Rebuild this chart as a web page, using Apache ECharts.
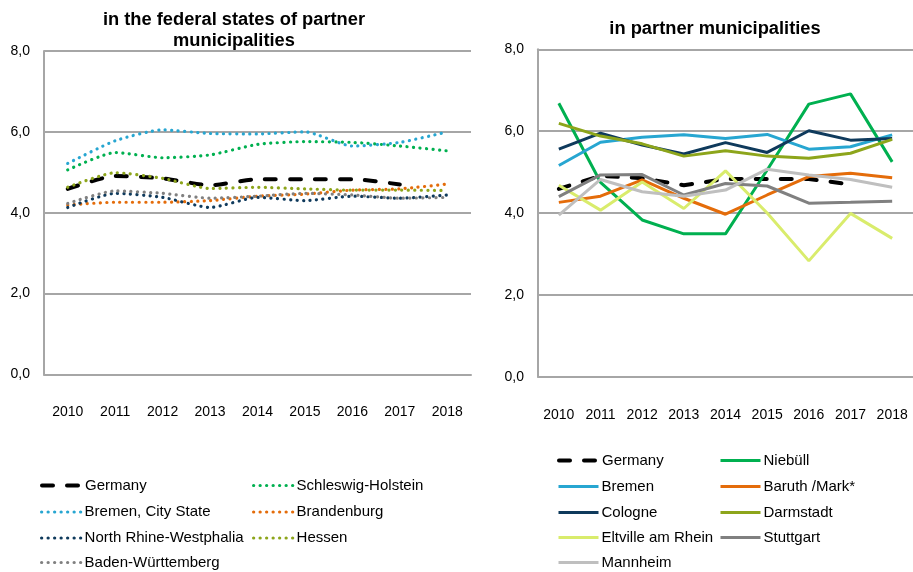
<!DOCTYPE html>
<html>
<head>
<meta charset="utf-8">
<script src="https://cdn.jsdelivr.net/npm/echarts@6/dist/echarts.min.js"></script>
<style>html,body{margin:0;padding:0;background:#fff}#c{width:913px;height:572px}</style>
</head>
<body>
<div id="c"></div>
<script>
var years = ['2010','2011','2012','2013','2014','2015','2016','2017','2018'];
var yTicks = [0, 2, 4, 6, 8];

// left chart: federal states
var germany     = [4.59, 4.91, 4.85, 4.68, 4.83, 4.83, 4.83, 4.70, null];
var schleswig   = [5.06, 5.49, 5.36, 5.43, 5.69, 5.76, 5.74, 5.65, 5.53];
var bremenState = [5.22, 5.78, 6.05, 5.96, 5.95, 6.00, 5.65, 5.74, 6.00];
var brandenburg = [4.19, 4.26, 4.26, 4.30, 4.41, 4.46, 4.56, 4.59, 4.71];
var nrw         = [4.13, 4.48, 4.38, 4.13, 4.38, 4.30, 4.41, 4.36, 4.44];
var hessen      = [4.63, 4.99, 4.85, 4.60, 4.63, 4.59, 4.56, 4.56, 4.55];
var bw          = [4.23, 4.54, 4.48, 4.36, 4.41, 4.48, 4.44, 4.36, 4.38];

// right chart: partner municipalities
var niebuell  = [6.68, 4.75, 3.83, 3.49, 3.49, 5.05, 6.66, 6.91, 5.25];
var bremen    = [5.16, 5.73, 5.85, 5.91, 5.82, 5.92, 5.56, 5.62, 5.91];
var baruth    = [4.26, 4.41, 4.81, 4.36, 3.97, 4.44, 4.89, 4.97, 4.86];
var cologne   = [5.56, 5.95, 5.66, 5.44, 5.72, 5.48, 6.01, 5.78, 5.82];
var darmstadt = [6.19, 5.88, 5.69, 5.39, 5.52, 5.39, 5.34, 5.46, 5.80];
var eltville  = [4.68, 4.07, 4.76, 4.11, 5.03, 4.00, 2.83, 3.99, 3.38];
var stuttgart = [4.40, 4.93, 4.94, 4.44, 4.72, 4.66, 4.24, 4.26, 4.29];
var mannheim  = [3.95, 4.82, 4.52, 4.41, 4.56, 5.07, 4.93, 4.82, 4.63];

var FONT = '"Liberation Sans", Arial, sans-serif';
var C = {
  black: '#000000', green: '#00B050', blue: '#27A6D1', orange: '#E46C0A',
  navy: '#0F3A5C', olive: '#8DA51B', yellow: '#D9EC6C', gray: '#808080', lgray: '#BFBFBF'
};
var GRID_COLOR = '#A6A6A6';

function yAxis(idx) {
  return {
    type: 'value', gridIndex: idx, min: yTicks[0], max: yTicks[yTicks.length - 1], interval: 2,
    axisLine: { show: true, lineStyle: { color: GRID_COLOR, width: 2 } },
    axisTick: { show: false },
    splitLine: { show: true, lineStyle: { color: GRID_COLOR, width: 2 } },
    axisLabel: { margin: 14, fontSize: 14, color: '#000', fontFamily: FONT,
      formatter: function (v) { return v.toFixed(1).replace('.', ','); } }
  };
}
function xAxis(idx) {
  return {
    type: 'category', gridIndex: idx, data: years, boundaryGap: true,
    axisLine: { show: true, lineStyle: { color: GRID_COLOR, width: 2 } },
    axisTick: { show: false },
    axisLabel: { margin: 31, fontSize: 14, color: '#000', fontFamily: FONT, interval: 0 }
  };
}
function dotted(name, data, color) {
  return { name: name, type: 'line', xAxisIndex: 0, yAxisIndex: 0, data: data,
    symbol: 'none', smooth: 0.2, color: color,
    lineStyle: { color: color, width: 3.2, type: [0.1, 6.4], cap: 'round' } };
}
function solid(name, data, color) {
  return { name: name, type: 'line', xAxisIndex: 1, yAxisIndex: 1, data: data,
    symbol: 'none', color: color,
    lineStyle: { color: color, width: 3 } };
}
function dashedGermany(axis, smooth) {
  return { name: 'Germany', type: 'line', xAxisIndex: axis, yAxisIndex: axis, data: germany,
    symbol: 'none', smooth: smooth, color: C.black,
    lineStyle: { color: C.black, width: 4, type: [11, 14], cap: 'round' } };
}
function leg(name, x, yc, w) {
  return { data: [name], left: x, top: yc - 7, itemWidth: 40, itemHeight: 16, padding: 0,
    selectedMode: false, itemGap: 0,
    itemStyle: { opacity: 0, borderWidth: 0 },
    lineStyle: { width: w },
    textStyle: { fontSize: 15, color: '#000', fontFamily: FONT, padding: [0, 0, 0, -2] } };
}

var TFONT = 'bold 18.3px ' + FONT;
var option = {
  animation: false,
  backgroundColor: '#fff',
  graphic: [
    { type: 'text', x: 234, y: 20, style: { text: 'in the federal states of partner', font: TFONT, fill: '#000', textAlign: 'center', textVerticalAlign: 'middle' } },
    { type: 'text', x: 234, y: 41, style: { text: 'municipalities', font: TFONT, fill: '#000', textAlign: 'center', textVerticalAlign: 'middle' } },
    { type: 'text', x: 715, y: 29, style: { text: 'in partner municipalities', font: TFONT, fill: '#000', textAlign: 'center', textVerticalAlign: 'middle' } }
  ],
  grid: [
    { left: 44, right: 442, top: 51, bottom: 197.5 },
    { left: 538, right: -5.5, top: 49.3, bottom: 195.3 }
  ],
  xAxis: [xAxis(0), xAxis(1)],
  yAxis: [yAxis(0), yAxis(1)],
  legend: [
    leg('Germany', 40, 485, 4),
    leg('Schleswig-Holstein', 252, 485, 3.2),
    leg('Bremen, City State', 40, 511.5, 3.2),
    leg('Brandenburg', 252, 511.5, 3.2),
    leg('North Rhine-Westphalia', 40, 537.5, 3.2),
    leg('Hessen', 252, 537.5, 3.2),
    leg('Baden-Württemberg', 40, 562, 3.2),

    leg('Germany', 557, 460, 4),
    leg('Niebüll', 719, 460, 3),
    leg('Bremen', 557, 486, 3),
    leg('Baruth /Mark*', 719, 486, 3),
    leg('Cologne', 557, 512, 3),
    leg('Darmstadt', 719, 512, 3),
    leg('Eltville am Rhein', 557, 537, 3),
    leg('Stuttgart', 719, 537, 3),
    leg('Mannheim', 557, 562, 3)
  ],
  series: [
    dashedGermany(0, 0.2),
    dotted('Schleswig-Holstein', schleswig, C.green),
    dotted('Bremen, City State', bremenState, C.blue),
    dotted('Brandenburg', brandenburg, C.orange),
    dotted('North Rhine-Westphalia', nrw, C.navy),
    dotted('Hessen', hessen, C.olive),
    dotted('Baden-Württemberg', bw, C.gray),

    dashedGermany(1, false),
    solid('Niebüll', niebuell, C.green),
    solid('Bremen', bremen, C.blue),
    solid('Baruth /Mark*', baruth, C.orange),
    solid('Cologne', cologne, C.navy),
    solid('Darmstadt', darmstadt, C.olive),
    solid('Eltville am Rhein', eltville, C.yellow),
    solid('Stuttgart', stuttgart, C.gray),
    solid('Mannheim', mannheim, C.lgray)
  ]
};
var chart = echarts.init(document.getElementById('c'), null, { renderer: 'canvas' });
chart.setOption(option);
</script>
</body>
</html>
